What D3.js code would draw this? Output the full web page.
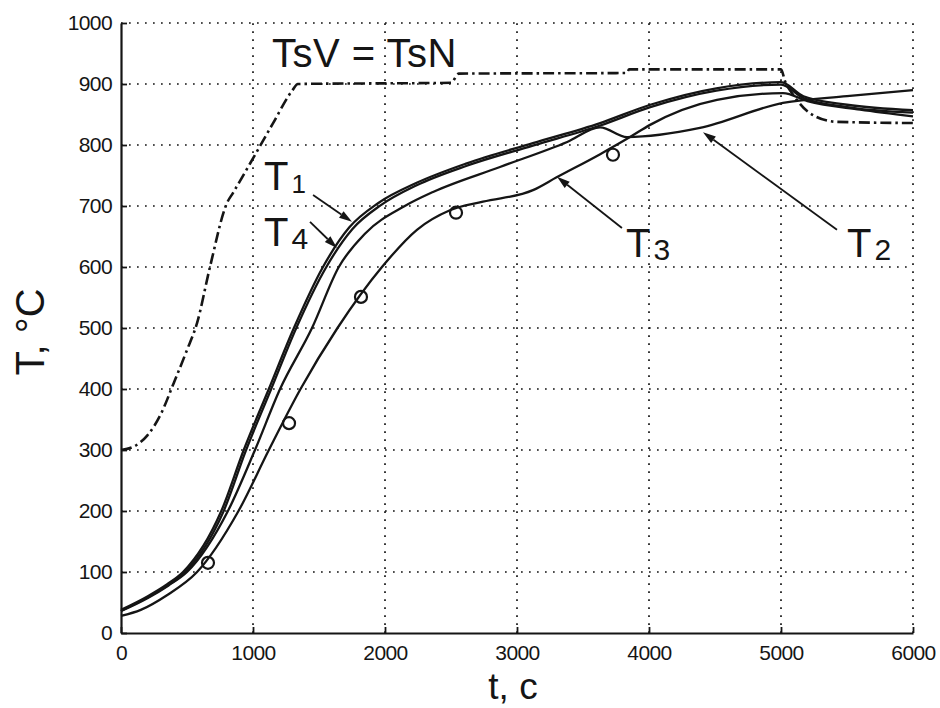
<!DOCTYPE html>
<html><head><meta charset="utf-8">
<script src="https://cdn.jsdelivr.net/npm/d3@7"></script>
<style>body{margin:0;background:#fff}svg{display:block}</style>
</head><body>
<svg id="c" width="940" height="708"></svg>
<script>
// ---- data ----
const xTicks = [0, 1000, 2000, 3000, 4000, 5000, 6000];
const yTicks = [0, 100, 200, 300, 400, 500, 600, 700, 800, 900, 1000];

const tS = [0, 100, 200, 300, 400, 500, 576, 674, 803, 850, 1000, 1150, 1300, 1340, 2500, 2560, 3830, 3850, 5000, 5030, 5100, 5220, 5420, 6000];
const vS = [300, 306, 324, 358, 410, 464, 508, 600, 705, 722, 778, 835, 890, 900, 902, 917, 918, 924, 924, 905, 880, 852, 838, 836];

const tT1 = [0, 200, 350, 470, 760, 930, 1120, 1310, 1530, 1730, 1950, 2240, 2620, 3120, 3630, 4010, 4510, 5000, 5170, 5500, 6000];
const vT1 = [38, 60, 80, 100, 200, 300, 400, 500, 600, 665, 705, 738, 770, 803, 836, 866, 893, 903, 880, 866, 857];

const tT4 = [0, 200, 355, 482, 776, 946, 1136, 1326, 1550, 1752, 1966, 2240, 2620, 3120, 3630, 4010, 4510, 5000, 5170, 5500, 6000];
const vT4 = [36, 58, 78, 99, 199, 299, 399, 499, 598, 662, 701, 734, 766, 799, 832, 862, 889, 899, 877, 862, 853];

const tT2 = [0, 200, 360, 500, 810, 1015, 1205, 1447, 1650, 1850, 2150, 2364, 2871, 3380, 3630, 3833, 4386, 5015, 5500, 6000];
const vT2 = [36, 57, 78, 100, 200, 300, 400, 500, 600, 655, 700, 723, 764, 805, 829, 813, 828, 869, 880, 890];

const tT3 = [0, 150, 348, 576, 890, 1120, 1360, 1640, 1977, 2242, 2492, 2742, 3121, 3300, 3630, 3856, 4008, 4515, 5015, 5200, 5600, 6000];
const vT3 = [28, 38, 62, 100, 200, 300, 400, 500, 600, 661, 693, 707, 726, 747, 785, 813, 833, 874, 885, 872, 858, 847];

const tExp = [659, 1273, 1818, 2538, 3727];
const vExp = [115, 344, 551, 689, 784];

// ---- layout ----
const svg = d3.select('#c');
const x = d3.scaleLinear().domain([0, 6000]).range([121, 913]);
const y = d3.scaleLinear().domain([0, 1000]).range([633, 23]);
const ink = '#151515';
const FONT = '"Liberation Sans", Arial, sans-serif';

// grid (dotted)
const g = svg.append('g');
g.selectAll('line.vx').data(xTicks.slice(1)).enter().append('line')
  .attr('x1', d => x(d)).attr('x2', d => x(d)).attr('y1', y(0)).attr('y2', y(1000))
  .attr('stroke', ink).attr('stroke-width', 1.7).attr('stroke-dasharray', '1.7,6.3');
g.selectAll('line.hy').data(yTicks.slice(1)).enter().append('line')
  .attr('x1', x(0)).attr('x2', x(6000)).attr('y1', d => y(d)).attr('y2', d => y(d))
  .attr('stroke', ink).attr('stroke-width', 1.7).attr('stroke-dasharray', '1.7,6.3');

// axes
const ax = svg.append('g').attr('transform', `translate(0,${y(0)})`)
  .call(d3.axisBottom(x).tickValues(xTicks).tickSize(-6).tickSizeOuter(0).tickPadding(12).tickFormat(d3.format('d')));
const ay = svg.append('g').attr('transform', `translate(${x(0)},0)`)
  .call(d3.axisLeft(y).tickValues(yTicks).tickSize(-6).tickSizeOuter(0).tickPadding(9).tickFormat(d3.format('d')));
[ax, ay].forEach(a => {
  a.select('.domain').attr('stroke', ink).attr('stroke-width', 2.2);
  a.selectAll('.tick line').attr('stroke', ink).attr('stroke-width', 1.8);
  a.selectAll('.tick text').attr('fill', ink).style('font-family', FONT).style('font-size', '21px').attr('letter-spacing', '-0.6');
});

// curves
const line = (ts, vs) => d3.line().curve(d3.curveMonotoneX)
  .x((d, i) => x(ts[i])).y((d, i) => y(vs[i]))(vs);

svg.append('path').attr('d', line(tS, vS)).attr('fill', 'none').attr('stroke', ink)
  .attr('stroke-width', 2.6).attr('stroke-dasharray', '11,4,2.5,4');

[[tT3, vT3], [tT2, vT2], [tT4, vT4], [tT1, vT1]].forEach(([ts, vs]) => {
  svg.append('path').attr('d', line(ts, vs)).attr('fill', 'none').attr('stroke', ink)
    .attr('stroke-width', 2.3).attr('stroke-linejoin', 'round');
});

// experimental points
svg.selectAll('circle.e').data(tExp).enter().append('circle')
  .attr('cx', d => x(d)).attr('cy', (d, i) => y(vExp[i])).attr('r', 6)
  .attr('fill', 'none').attr('stroke', ink).attr('stroke-width', 2.2);

// annotations
const arrows = [
  {from: [1455, 718], to: [1750, 674]},
  {from: [1432, 674], to: [1636, 631]},
  {from: [3795, 664], to: [3303, 748]},
  {from: [5424, 661], to: [4409, 821]}
];
arrows.forEach(a => {
  const x1 = x(a.from[0]), y1 = y(a.from[1]), x2 = x(a.to[0]), y2 = y(a.to[1]);
  const ang = Math.atan2(y2 - y1, x2 - x1);
  const L = 13, W = 4;
  const bx = x2 - L * Math.cos(ang), by = y2 - L * Math.sin(ang);
  svg.append('line').attr('x1', x1).attr('y1', y1).attr('x2', bx).attr('y2', by)
    .attr('stroke', ink).attr('stroke-width', 1.8);
  const px = -Math.sin(ang) * W, py = Math.cos(ang) * W;
  svg.append('path').attr('d', `M${x2},${y2}L${bx + px},${by + py}L${bx - px},${by - py}Z`).attr('fill', ink);
});

const labels = [
  {t: 1083, v: 726, main: 'T', sub: '1', subSize: 26},
  {t: 1083, v: 634, main: 'T', sub: '4', subSize: 30},
  {t: 3826, v: 616, main: 'T', sub: '3', subSize: 30},
  {t: 5500, v: 616, main: 'T', sub: '2', subSize: 30}
];
labels.forEach(l => {
  const tx = svg.append('text').attr('x', x(l.t)).attr('y', y(l.v)).attr('fill', ink)
    .style('font-family', FONT).style('font-size', '40px');
  tx.append('tspan').text(l.main);
  tx.append('tspan').attr('dx', 3).attr('dy', 3).style('font-size', l.subSize + 'px').text(l.sub);
});

svg.append('text').attr('x', x(1144)).attr('y', y(928)).attr('fill', ink)
  .style('font-family', FONT).style('font-size', '40px').attr('letter-spacing', '0.5').text('TsV = TsN');

// axis titles
svg.append('text').attr('transform', `translate(44,332) rotate(-90)`).attr('text-anchor', 'middle')
  .attr('fill', ink).style('font-family', FONT).style('font-size', '40px').text('T, °C');
svg.append('text').attr('x', 513).attr('y', 699).attr('text-anchor', 'middle')
  .attr('fill', ink).style('font-family', FONT).style('font-size', '37px').text('t, c');
</script>
</body></html>
